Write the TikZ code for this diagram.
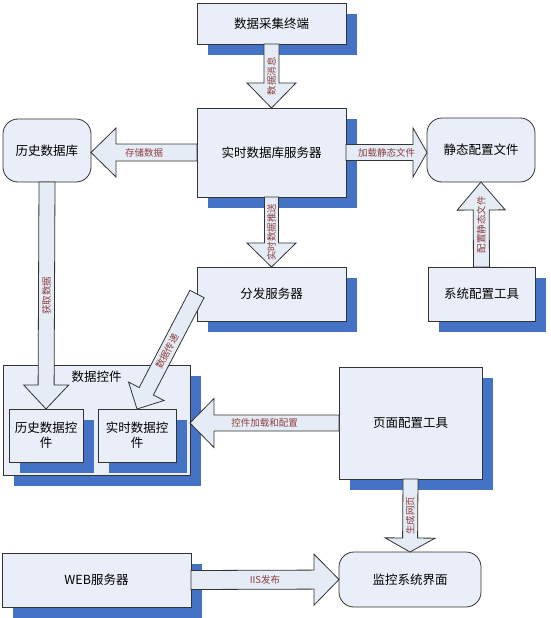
\documentclass[tikz,border=0pt]{standalone}
\usepackage{fontspec}
\setmainfont{Noto Sans CJK SC}
\usetikzlibrary{calc,shadows}
\definecolor{boxfill}{HTML}{E9EEF8}
\definecolor{shadowblue}{HTML}{4472C4}
\definecolor{edgegray}{HTML}{333333}
\definecolor{labelred}{HTML}{8B3E3E}
\definecolor{arrowfill}{HTML}{E6ECF6}
\tikzset{
  boxbase/.style={draw=edgegray, line width=0.8pt, fill=boxfill, inner sep=2pt, outer sep=0pt,
    font=\fontsize{12.5}{15}\selectfont, align=center, text=black},
  shadowbox/.style={boxbase, rectangle, general shadow={fill=shadowblue, shadow xshift=11pt, shadow yshift=-11pt}},
  roundbox/.style={boxbase, rectangle, rounded corners=15pt},
  plaintext/.style={font=\fontsize{12.5}{15}\selectfont, inner sep=0pt},
  fatarrowstyle/.style={draw=edgegray, line width=0.8pt, fill=arrowfill, line join=miter},
  arrowlabel/.style={text=labelred, font=\fontsize{9.5}{11}\selectfont, inner sep=0pt},
}
% #1 tail, #2 tip, #3 shaft half width, #4 head half width, #5 head length, #6 label rotation, #7 label
\newcommand{\fatarr}[7]{%
  \coordinate (fa-T) at (#1);
  \coordinate (fa-P) at (#2);
  \coordinate (fa-B) at ($(fa-P)!#5!(fa-T)$);
  \draw[fatarrowstyle] ($(fa-T)!#3!90:(fa-P)$) -- ($(fa-B)!#3!-90:(fa-T)$) -- ($(fa-B)!#4!-90:(fa-T)$)
    -- (fa-P) -- ($(fa-B)!#4!90:(fa-T)$) -- ($(fa-B)!#3!90:(fa-T)$) -- ($(fa-T)!#3!-90:(fa-P)$) -- cycle;
  \path (fa-T) -- (fa-P) node[arrowlabel, midway, rotate=#6] {#7};
}
\begin{document}
\begin{tikzpicture}[x=1pt, y=-1pt]
\useasboundingbox (0,0) rectangle (550,618);

% boxes
\node[shadowbox, minimum width=149pt, minimum height=41pt] (caiji) at (271.5,23.5) {数据采集终端};
\node[shadowbox, minimum width=149pt, minimum height=89pt] (shishi) at (271.5,152.5) {实时数据库服务器};
\node[shadowbox, minimum width=149pt, minimum height=54pt] (fenfa) at (271.5,294) {分发服务器};
\node[roundbox, minimum width=88pt, minimum height=63pt] (lishi) at (47,150.5) {历史数据库};
\node[roundbox, minimum width=108pt, minimum height=64pt] (jingtai) at (481,150) {静态配置文件};
\node[shadowbox, minimum width=107pt, minimum height=54pt] (xitong) at (481.5,294) {系统配置工具};

\node[shadowbox, minimum width=187pt, minimum height=110pt] (container) at (96.5,420) {};
\node[plaintext] (containerlabel) at ($(container.north)+(0,12)$) {数据控件};
\node[shadowbox, minimum width=74pt, minimum height=53pt] (lishictl) at (46,435.5) {历史数据控\\件};
\node[shadowbox, minimum width=78pt, minimum height=53pt] (shishictl) at (137,435.5) {实时数据控\\件};

\node[shadowbox, minimum width=143pt, minimum height=112pt] (ymcfg) at (410.5,423) {页面配置工具};
\node[shadowbox, minimum width=189pt, minimum height=54pt] (web) at (96.5,580) {WEB服务器};
\node[roundbox, minimum width=142pt, minimum height=55pt] (jiankong) at (410,579.5) {监控系统界面};

% arrows
\fatarr{caiji.south}{shishi.north}{7.5pt}{24.5pt}{25pt}{90}{数据消息}
\fatarr{shishi.south}{fenfa.north}{7pt}{24.5pt}{24pt}{90}{实时数据推送}
\fatarr{shishi.west}{lishi.east |- shishi.west}{8.5pt}{24.5pt}{25pt}{0}{存储数据}
\fatarr{shishi.east}{jingtai.west |- shishi.east}{8pt}{24.5pt}{14pt}{0}{加载静态文件}
\fatarr{xitong.north}{jingtai.south}{8pt}{24pt}{28pt}{90}{配置静态文件}
\fatarr{lishi.south}{lishictl.north}{8pt}{22.5pt}{24pt}{90}{获取数据}
\fatarr{fenfa.west}{shishictl.north}{8pt}{20pt}{20pt}{62}{数据传递}
\fatarr{ymcfg.west}{container.east |- ymcfg.west}{8pt}{24.5pt}{24pt}{0}{控件加载和配置}
\fatarr{ymcfg.south}{jiankong.north}{7.5pt}{25pt}{14pt}{90}{生成网页}
\fatarr{web.east}{jiankong.west}{9.5pt}{25.5pt}{25pt}{0}{IIS发布}
\end{tikzpicture}
\end{document}
